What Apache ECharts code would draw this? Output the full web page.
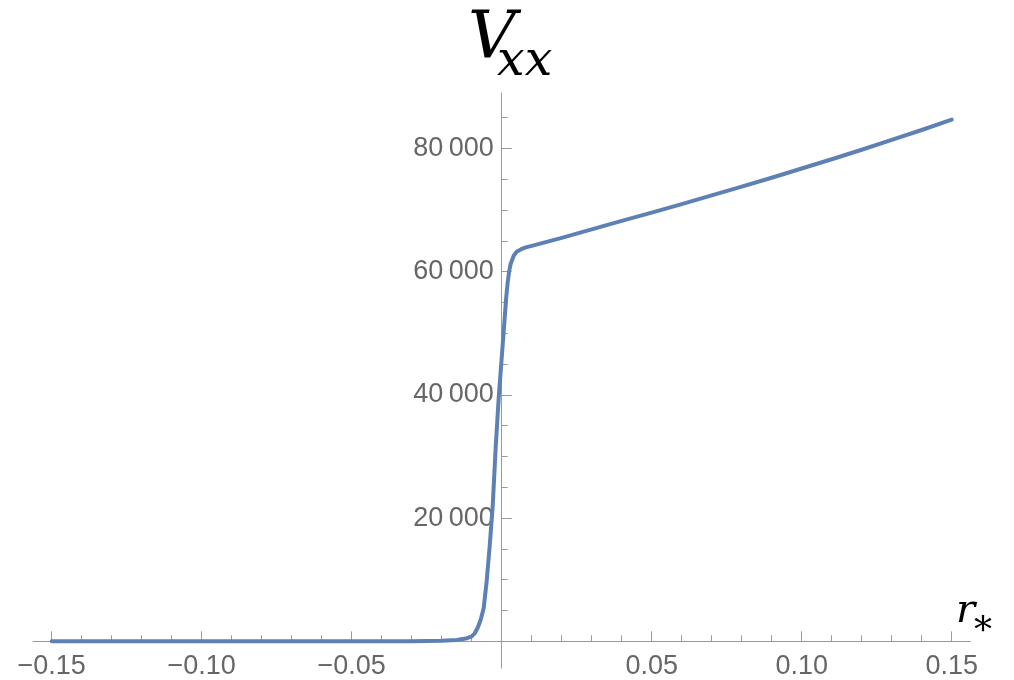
<!DOCTYPE html>
<html>
<head>
<meta charset="utf-8">
<script src="https://cdn.jsdelivr.net/npm/echarts@6/dist/echarts.min.js"></script>
<style>
  html, body { margin: 0; padding: 0; background: #ffffff; }
  #chart { width: 1014px; height: 680px; }
</style>
</head>
<body>
<div id="chart"></div>
<script>
// r_* values (x) and V_xx values (y)
const rStar = [
  -0.15, -0.12, -0.09, -0.06, -0.04, -0.03, -0.02, -0.015, -0.012, -0.010,
  -0.009, -0.008, -0.007, -0.006, -0.005, -0.004, -0.003, -0.002, -0.001, 0.000,
  0.001, 0.0015, 0.002, 0.0025, 0.003, 0.004, 0.005, 0.0065, 0.008, 0.010,
  0.015, 0.020, 0.030, 0.040, 0.050, 0.060, 0.070, 0.080, 0.090, 0.100,
  0.110, 0.120, 0.130, 0.140, 0.150
];
const vxx = [
  0, 0, 0, 0, 0, 20, 100, 200, 450, 800,
  1300, 2200, 3500, 5400, 9800, 15500, 22000, 31500, 39500, 46000,
  52500, 55800, 58300, 60100, 61300, 62600, 63250, 63650, 63950, 64200,
  64850, 65500, 66870, 68250, 69600, 70980, 72380, 73800, 75250, 76750,
  78250, 79800, 81400, 83000, 84700
];

// axis ranges / tick steps
const xTickRange = [-0.15, 0.15];
const xTickStep = 0.05;
const xLineRange = [-0.1565, 0.1565];
const xRightHalf = [0, 0.15];
const yTickRange = [0, 80000];
const yTickStep = 20000;
const yMinorRange = [0, 85000];
const yMinorStep = 5000;
const yLineRange = [-4330, 89000];
const yTopRange = [0, 89000];

const seriesData = rStar.map((x, i) => [x, vxx[i]]);

const axisGray = '#9a9a9a';
const labelGray = '#666666';
const labelFont = 'Liberation Sans, Arial, sans-serif';

function fmtX(v) {
  if (Math.abs(v) < 1e-9) return '';
  return (v < 0 ? '\u2212' : '') + Math.abs(v).toFixed(2);
}
function fmtY(v) {
  if (v === 0) return '';
  return String(Math.round(v)).replace(/\B(?=(\d{3})+(?!\d))/g, '\u2009');
}

const hiddenAxis = (gridIndex, range, interval) => ({
  type: 'value', gridIndex: gridIndex, min: range[0], max: range[1], interval: interval,
  show: false, axisLine: { show: false, onZero: false }, axisTick: { show: false },
  axisLabel: { show: false }, splitLine: { show: false }
});

const chart = echarts.init(document.getElementById('chart'), null, { renderer: 'canvas' });

chart.setOption({
  animation: false,
  backgroundColor: '#ffffff',
  grid: [
    // 0: data + x ticks & labels
    { left: 51.7, top: 148.5, width: 900, height: 492.8, outerBoundsMode: 'none', containLabel: false },
    // 1: y major ticks & labels (left edge = r* = 0)
    { left: 501.7, top: 148.5, width: 450, height: 492.8, outerBoundsMode: 'none', containLabel: false },
    // 2: y minor ticks
    { left: 501.7, top: 117.7, width: 450, height: 523.6, outerBoundsMode: 'none', containLabel: false },
    // 3: horizontal axis line (bottom edge = V = 0)
    { left: 33.1, top: 93, width: 937.2, height: 548.3, outerBoundsMode: 'none', containLabel: false },
    // 4: vertical axis line (left edge = r* = 0)
    { left: 501.7, top: 93, width: 450, height: 575, outerBoundsMode: 'none', containLabel: false }
  ],
  xAxis: [
    {
      type: 'value', gridIndex: 0, position: 'bottom',
      min: xTickRange[0], max: xTickRange[1], interval: xTickStep,
      axisLine: { show: false, onZero: false },
      axisTick: { show: true, inside: true, length: 10, lineStyle: { color: axisGray, width: 1 } },
      minorTick: { show: true, splitNumber: 5, length: 6, lineStyle: { color: axisGray, width: 1 } },
      axisLabel: { show: true, margin: 12, formatter: fmtX, color: labelGray, fontSize: 27, fontFamily: labelFont },
      splitLine: { show: false }
    },
    hiddenAxis(1, xRightHalf, 0.05),
    hiddenAxis(2, xRightHalf, 0.05),
    {
      type: 'value', gridIndex: 3, position: 'bottom',
      min: xLineRange[0], max: xLineRange[1],
      axisLine: { show: true, onZero: false, lineStyle: { color: axisGray, width: 1 } },
      axisTick: { show: false }, axisLabel: { show: false }, splitLine: { show: false }
    },
    hiddenAxis(4, xRightHalf, 0.05)
  ],
  yAxis: [
    hiddenAxis(0, yTickRange, yTickStep),
    {
      type: 'value', gridIndex: 1, position: 'left',
      min: yTickRange[0], max: yTickRange[1], interval: yTickStep,
      axisLine: { show: false, onZero: false },
      axisTick: { show: true, inside: true, length: 10, lineStyle: { color: axisGray, width: 1 } },
      axisLabel: { show: true, margin: 8, formatter: fmtY, color: labelGray, fontSize: 27, fontFamily: labelFont },
      splitLine: { show: false }
    },
    {
      type: 'value', gridIndex: 2, position: 'left',
      min: yMinorRange[0], max: yMinorRange[1], interval: yMinorStep,
      axisLine: { show: false, onZero: false },
      axisTick: { show: true, inside: true, length: 6, lineStyle: { color: axisGray, width: 1 } },
      axisLabel: { show: false }, splitLine: { show: false }
    },
    hiddenAxis(3, yTopRange),
    {
      type: 'value', gridIndex: 4, position: 'left',
      min: yLineRange[0], max: yLineRange[1],
      axisLine: { show: true, onZero: false, lineStyle: { color: axisGray, width: 1 } },
      axisTick: { show: false }, axisLabel: { show: false }, splitLine: { show: false }
    }
  ],
  series: [
    {
      type: 'line',
      xAxisIndex: 0, yAxisIndex: 0,
      data: seriesData,
      showSymbol: false,
      clip: false,
      smooth: false,
      lineStyle: { color: '#5E81B5', width: 4, join: 'round', cap: 'round' },
      z: 5
    }
  ],
  graphic: [
    { type: 'text', left: 468, top: 7, style: { text: 'V', font: 'italic 66px "DejaVu Serif", serif', fill: '#000' } },
    { type: 'text', left: 497, top: 38, style: { text: 'xx', font: 'italic 49px "DejaVu Serif", serif', fill: '#000' } },
    { type: 'text', left: 956, top: 592, style: { text: 'r', font: 'italic 40px "DejaVu Serif", serif', fill: '#000' } },
    { type: 'text', left: 974, top: 615, style: { text: '*', font: '36px "DejaVu Serif", serif', fill: '#000' } }
  ]
});
</script>
</body>
</html>
